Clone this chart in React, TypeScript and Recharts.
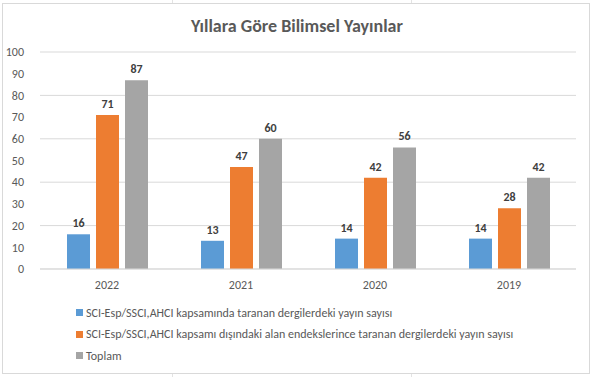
import { Bar, BarChart, CartesianGrid, LabelList, XAxis, YAxis } from 'recharts'

const years = ['2022', '2021', '2020', '2019']
const indexed = [16, 13, 14, 14]
const otherIndexed = [71, 47, 42, 28]
const totals = [87, 60, 56, 42]
const yTicks = [0, 10, 20, 30, 40, 50, 60, 70, 80, 90, 100]

const series = [
  { key: 'indexed', name: 'SCI-Esp/SSCI,AHCI kapsamında taranan dergilerdeki yayın sayısı', color: '#5b9bd5' },
  { key: 'other', name: 'SCI-Esp/SSCI,AHCI kapsamı dışındaki alan endekslerince taranan dergilerdeki yayın sayısı', color: '#ed7d31' },
  { key: 'total', name: 'Toplam', color: '#a5a5a5' },
]

const chartData = years.map((year, i) => ({
  year,
  indexed: indexed[i],
  other: otherIndexed[i],
  total: totals[i],
}))

const font = "Carlito, Calibri, 'Liberation Sans', sans-serif"
const axisText = { fill: '#595959', fontSize: 12, fontFamily: font }

export default function App() {
  return (
    <div style={{ position: 'absolute', left: 0, top: 0, width: 594, height: 377, background: '#fff', overflow: 'hidden' }}>
      {/* sheet cell lines behind the chart */}
      <div style={{ position: 'absolute', left: 172, top: 0, width: 1, height: 377, background: '#e3e3e3' }} />
      <div style={{ position: 'absolute', left: 411, top: 0, width: 1, height: 377, background: '#e3e3e3' }} />
      <div
        style={{
          position: 'absolute',
          left: 2,
          top: 3,
          width: 586,
          height: 369,
          border: '1px solid #d9d9d9',
          background: '#fff',
        }}
      />
      <div
        style={{
          position: 'absolute',
          left: 0,
          top: 15,
          width: 594,
          textAlign: 'center',
          fontFamily: font,
          fontWeight: 'bold',
          fontSize: 18,
          color: '#595959',
        }}
      >
        Yıllara Göre Bilimsel Yayınlar
      </div>
      <div style={{ position: 'absolute', left: 0, top: 0 }}>
        <BarChart
          width={594}
          height={377}
          data={chartData}
          margin={{ top: 52, right: 18, bottom: 83, left: 0 }}
          barSize={23}
          barGap={6}
        >
          <CartesianGrid vertical={false} stroke="#d9d9d9" />
          <XAxis
            dataKey="year"
            height={25}
            tickLine={false}
            axisLine={{ stroke: '#d9d9d9' }}
            tick={axisText}
            tickMargin={5}
          />
          <YAxis
            width={40}
            domain={[0, 100]}
            ticks={yTicks}
            tickLine={false}
            axisLine={false}
            tick={axisText}
            tickMargin={10}
          />
          {series.map((s) => (
            <Bar key={s.key} dataKey={s.key} name={s.name} fill={s.color} isAnimationActive={false}>
              <LabelList
                dataKey={s.key}
                position="top"
                offset={7}
                fill="#404040"
                fontSize={12}
                fontWeight="bold"
                fontFamily={font}
              />
            </Bar>
          ))}
        </BarChart>
      </div>
      <div style={{ position: 'absolute', left: 76, top: 302, fontFamily: font, fontSize: 12, color: '#595959' }}>
        {series.map((s) => (
          <div key={s.key} style={{ display: 'flex', alignItems: 'center', height: 21.5 }}>
            <span style={{ display: 'inline-block', width: 7, height: 7, background: s.color, marginRight: 3 }} />
            <span>{s.name}</span>
          </div>
        ))}
      </div>
    </div>
  )
}
